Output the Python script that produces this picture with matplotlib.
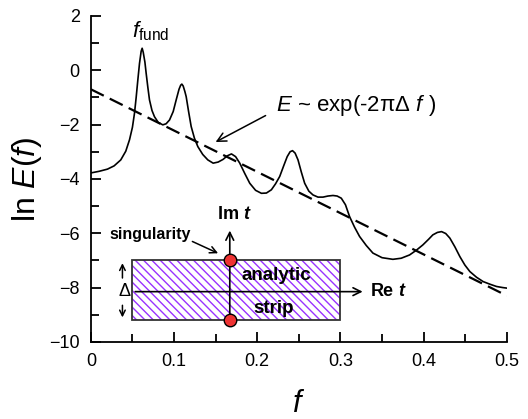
import numpy as np
import matplotlib.pyplot as plt
from matplotlib.patches import Rectangle

plt.rcParams['font.family'] = ['Liberation Sans', 'DejaVu Sans']
plt.rcParams['mathtext.fontset'] = 'custom'
plt.rcParams['mathtext.it'] = 'Liberation Sans:italic'
plt.rcParams['mathtext.rm'] = 'Liberation Sans'
plt.rcParams['mathtext.bfit'] = 'Liberation Sans:italic:bold'
plt.rcParams['hatch.linewidth'] = 1.0

# spectrum
freq = [0.0, 0.010, 0.020, 0.028, 0.036, 0.042, 0.0465, 0.0500, 0.0525, 0.0545,
        0.0565, 0.0585, 0.0605, 0.0617, 0.0630, 0.0650, 0.0665, 0.0685, 0.0705,
        0.0735, 0.0765, 0.0810, 0.0865, 0.0905, 0.0946, 0.0990, 0.1026, 0.1060,
        0.1080, 0.1094, 0.1110, 0.1130, 0.1146, 0.1175, 0.1206, 0.1245, 0.1286,
        0.1345, 0.1406, 0.1470, 0.1530, 0.1590, 0.1640, 0.1690, 0.1740, 0.1790,
        0.1850, 0.1910, 0.1980, 0.2050, 0.2110, 0.2170, 0.2220, 0.2270, 0.2320,
        0.2360, 0.2395, 0.2424, 0.2455, 0.2490, 0.2530, 0.2570, 0.2620, 0.2670,
        0.2730, 0.2790, 0.2850, 0.2910, 0.2960, 0.3010, 0.3060, 0.3110, 0.3170,
        0.3230, 0.3310, 0.3390, 0.3500, 0.3630, 0.3730, 0.3830, 0.3910, 0.3990,
        0.4060, 0.4110, 0.4165, 0.4215, 0.4265, 0.4315, 0.4375, 0.4435, 0.4495,
        0.4555, 0.4635, 0.4715, 0.4800, 0.4876, 0.4950, 0.5000]
ln_e = [-3.78, -3.72, -3.64, -3.52, -3.30, -2.98, -2.56, -2.10, -1.58, -1.00,
        -0.36, 0.25, 0.70, 0.81, 0.66, 0.30, -0.11, -0.62, -1.09, -1.48,
        -1.71, -1.92, -2.01, -1.97, -1.83, -1.52, -1.09, -0.70, -0.55, -0.51,
        -0.58, -0.78, -0.97, -1.52, -2.07, -2.50, -2.81, -3.10, -3.30, -3.42,
        -3.38, -3.28, -3.15, -3.08, -3.18, -3.42, -3.80, -4.16, -4.42, -4.53,
        -4.52, -4.40, -4.18, -3.91, -3.50, -3.18, -3.00, -2.96, -3.05, -3.30,
        -3.75, -4.16, -4.45, -4.59, -4.67, -4.67, -4.63, -4.61, -4.63, -4.71,
        -4.95, -5.39, -5.78, -6.12, -6.45, -6.73, -6.90, -6.96, -6.92, -6.80,
        -6.63, -6.43, -6.22, -6.06, -5.97, -5.94, -6.01, -6.18, -6.50, -6.86,
        -7.17, -7.41, -7.62, -7.78, -7.88, -7.96, -8.00, -8.02]

# exponential decay guide line
fit_f = [0.0, 0.5]
fit_ln_e = [-0.7, -8.3]

fig = plt.figure(figsize=(5.28, 4.19), dpi=100)
ax = fig.add_axes([0.172, 0.184, 0.788, 0.778])

ax.plot(freq, ln_e, color='black', lw=1.2)
ax.plot(fit_f, fit_ln_e, color='black', lw=1.6, dashes=(6.5, 3))

ax.set_xlim(0, 0.5)
ax.set_ylim(-10, 2)
ax.set_xticks([0, 0.1, 0.2, 0.3, 0.4, 0.5])
ax.set_xticklabels(['0', '0.1', '0.2', '0.3', '0.4', '0.5'])
ax.set_yticks([-10, -8, -6, -4, -2, 0, 2])
ax.set_xticks(np.arange(0.05, 0.5, 0.1), minor=True)
ax.set_yticks(np.arange(-9, 2, 2), minor=True)
ax.tick_params(which='both', direction='in', width=1.3, labelsize=13, pad=8)
ax.tick_params(which='major', length=7)
ax.tick_params(which='minor', length=6)
for s in ['top', 'right']:
    ax.spines[s].set_visible(False)
for s in ['left', 'bottom']:
    ax.spines[s].set_linewidth(1.3)

ax.set_xlabel('$f$', fontsize=22, labelpad=14)
ax.set_ylabel(r'ln $E$($f$)', fontsize=23, labelpad=4)

ax.text(0.072, 1.45, r'$f_{\rm fund}$', fontsize=16, ha='center', va='center')
ax.text(0.222, -1.28, r'$E$ ~ exp(-2πΔ $f$ )', fontsize=16,
        ha='left', va='center')
ax.annotate('', xy=(0.147, -2.69), xytext=(0.213, -1.62),
            arrowprops=dict(arrowstyle='->', color='black', lw=1.1,
                            mutation_scale=16))

# inset: analytic strip
ax.add_patch(Rectangle((0.05, -9.2), 0.25, 2.2, facecolor='white',
                       edgecolor='#9933ff', lw=0, hatch='\\' * 4, zorder=3))
ax.add_patch(Rectangle((0.05, -9.2), 0.25, 2.2, facecolor='none',
                       edgecolor='#333333', lw=1.3, zorder=3))
ax.annotate('', xy=(0.33, -8.15), xytext=(0.05, -8.15),
            arrowprops=dict(arrowstyle='->', color='black', lw=1.2,
                            mutation_scale=14), zorder=4)
ax.annotate('', xy=(0.167, -5.8), xytext=(0.167, -9.2),
            arrowprops=dict(arrowstyle='->', color='black', lw=1.2,
                            mutation_scale=14), zorder=4)
ax.plot([0.167, 0.167], [-7.0, -9.2], 'o', color='#ee3333', mec='black',
        mew=1.0, ms=9, zorder=5, clip_on=False)
ax.text(0.172, -5.3, r'Im $\mathbfit{t}$', fontsize=13, weight='bold',
        ha='center', va='center')
ax.text(0.336, -8.15, r'Re $\mathbfit{t}$', fontsize=13, weight='bold',
        ha='left', va='center')
ax.text(0.071, -6.06, 'singularity', fontsize=11.5, weight='bold',
        ha='center', va='center')
ax.annotate('', xy=(0.156, -6.78), xytext=(0.119, -6.26),
            arrowprops=dict(arrowstyle='->', color='black', lw=1.1,
                            mutation_scale=12))
ax.text(0.223, -7.55, 'analytic', fontsize=13.5, weight='bold',
        ha='center', va='center', zorder=6)
ax.text(0.220, -8.76, 'strip', fontsize=13.5, weight='bold',
        ha='center', va='center', zorder=6)
ax.text(0.040, -8.15, 'Δ', fontsize=13, ha='center', va='center')
ax.annotate('', xy=(0.038, -7.0), xytext=(0.038, -7.75),
            arrowprops=dict(arrowstyle='->', color='black', lw=1.1,
                            mutation_scale=10))
ax.annotate('', xy=(0.038, -9.2), xytext=(0.038, -8.55),
            arrowprops=dict(arrowstyle='->', color='black', lw=1.1,
                            mutation_scale=10))

fig.savefig('out.png', dpi=100)
